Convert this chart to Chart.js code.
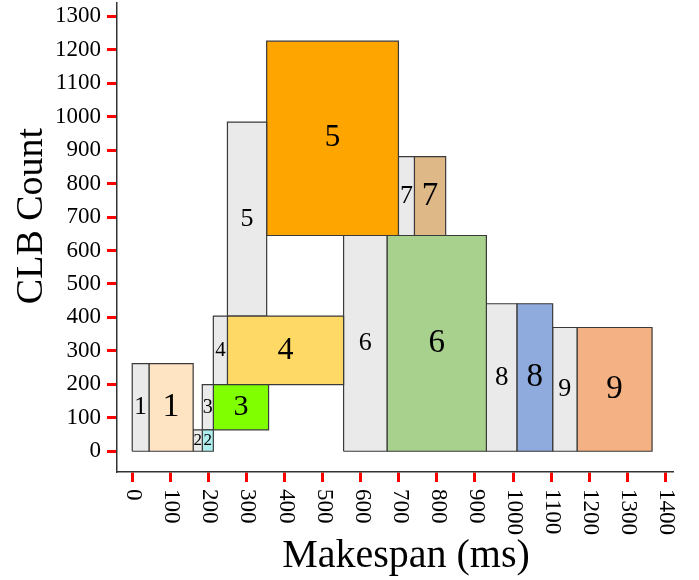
<!DOCTYPE html>
<html>
<head>
<meta charset="utf-8">
<script src="https://cdn.jsdelivr.net/npm/chart.js@4.4.1/dist/chart.umd.min.js"></script>
<style>
  html, body { margin: 0; padding: 0; background: #fff; }
  #wrap { width: 699px; height: 580px; position: relative; }
</style>
</head>
<body>
<div id="wrap"><canvas id="chart"></canvas></div>
<script>
// task groups, each one is a gray block sitting next to a coloured block
const taskLabels = ['1', '2', '3', '4', '5', '6', '7', '8', '9'];

// gray blocks: makespan (ms) range and CLB count range
const grayStart = [0, 160, 184, 213, 250, 555, 699, 930, 1104];
const grayEnd   = [44, 184, 213, 250, 353, 669, 741, 1010, 1168];
const grayLow   = [0, 0, 64, 199, 404, 0, 645, 0, 0];
const grayHigh  = [262, 64, 199, 404, 984, 645, 881, 441, 370];

// coloured blocks
const colorStart = [44, 184, 213, 250, 353, 669, 741, 1010, 1168];
const colorEnd   = [160, 213, 358, 555, 699, 930, 823, 1104, 1365];
const colorLow   = [0, 0, 64, 199, 645, 0, 645, 0, 0];
const colorHigh  = [262, 64, 199, 404, 1226, 645, 881, 441, 370];

// tick labels
const xTickValues = [0, 100, 200, 300, 400, 500, 600, 700, 800, 900, 1000, 1100, 1200, 1300, 1400];
const yTickValues = [0, 100, 200, 300, 400, 500, 600, 700, 800, 900, 1000, 1100, 1200, 1300];

// styles
const grayFill = '#EAEAEA';
const blockFill = ['#FFE4C4', '#AFEEEE', '#7FFF00', '#FFD966', '#FFA500', '#A9D18E', '#DEB887', '#8FAADC', '#F4B183'];
const grayFontPx = [25, 17, 20, 21, 26, 26, 26, 27, 26];
const colorFontPx = [34, 17, 30, 32, 31, 33, 33, 33, 33];
const serif = 'Liberation Serif';

function rectPoints(x0, x1, y0, y1) {
    return [
        { x: x0, y: y0 }, { x: x1, y: y0 }, { x: x1, y: y1 }, { x: x0, y: y1 }, { x: x0, y: y0 }
    ];
}

const datasets = [];
taskLabels.forEach((t, i) => {
    datasets.push({
        label: 'gray ' + t,
        data: rectPoints(grayStart[i], grayEnd[i], grayLow[i], grayHigh[i]),
        backgroundColor: grayFill
    });
    datasets.push({
        label: 'task ' + t,
        data: rectPoints(colorStart[i], colorEnd[i], colorLow[i], colorHigh[i]),
        backgroundColor: blockFill[i]
    });
});
datasets.forEach(d => {
    d.showLine = true;
    d.fill = 'shape';
    d.tension = 0;
    d.pointRadius = 0;
    d.borderColor = '#3a3a3a';
    d.borderWidth = 1.2;
});

// numbers in the middle of each block
const blockLabels = {
    id: 'blockLabels',
    afterDatasetsDraw(chart) {
        const { ctx, scales: { x, y } } = chart;
        const put = (txt, x0, x1, y0, y1, size) => {
            ctx.font = size + 'px "' + serif + '"';
            ctx.fillText(txt, x.getPixelForValue((x0 + x1) / 2), y.getPixelForValue((y0 + y1) / 2));
        };
        ctx.save();
        ctx.fillStyle = '#000';
        ctx.textAlign = 'center';
        ctx.textBaseline = 'middle';
        taskLabels.forEach((t, i) => {
            put(t, grayStart[i], grayEnd[i], grayLow[i], grayHigh[i], grayFontPx[i]);
            put(t, colorStart[i], colorEnd[i], colorLow[i], colorHigh[i], colorFontPx[i]);
        });
        ctx.restore();
    }
};

// rotated x tick labels (reading downwards) and axis titles
const axisText = {
    id: 'axisText',
    afterDraw(chart) {
        const { ctx, scales: { x } } = chart;
        ctx.save();
        ctx.fillStyle = '#000';
        ctx.font = '23px "' + serif + '"';
        ctx.textAlign = 'left';
        ctx.textBaseline = 'middle';
        xTickValues.forEach(v => {
            ctx.save();
            ctx.translate(x.getPixelForValue(v) + 1, 489);
            ctx.rotate(Math.PI / 2);
            ctx.fillText(String(v), 0, 0);
            ctx.restore();
        });
        ctx.font = '40px "' + serif + '"';
        ctx.textAlign = 'center';
        ctx.textBaseline = 'alphabetic';
        ctx.fillText('Makespan (ms)', 406, 567);
        ctx.font = '38px "' + serif + '"';
        ctx.save();
        ctx.translate(42, 216);
        ctx.rotate(-Math.PI / 2);
        ctx.fillText('CLB Count', 0, 0);
        ctx.restore();
        ctx.restore();
    }
};

Chart.defaults.font.family = serif;

new Chart(document.getElementById('chart'), {
    type: 'scatter',
    data: { datasets: datasets },
    plugins: [blockLabels, axisText],
    options: {
        responsive: true,
        maintainAspectRatio: false,
        animation: false,
        layout: { autoPadding: false, padding: { top: 3, right: 26, bottom: 0, left: 0 } },
        plugins: {
            legend: { display: false },
            tooltip: { enabled: false }
        },
        scales: {
            x: {
                type: 'linear',
                min: -40,
                max: 1420,
                afterBuildTicks: (scale) => { scale.ticks = xTickValues.map(v => ({ value: v })); },
                afterFit: (scale) => {
                    scale.height = 108;
                    scale.paddingLeft = 0;
                    scale.paddingRight = 0;
                },
                ticks: { display: false, autoSkip: false },
                grid: {
                    display: true,
                    drawOnChartArea: false,
                    drawTicks: true,
                    tickLength: 10,
                    tickColor: '#ff0000',
                    tickWidth: 3
                },
                border: { display: true, color: '#333', width: 1.5 }
            },
            y: {
                type: 'linear',
                min: -62,
                max: 1340,
                afterBuildTicks: (scale) => { scale.ticks = yTickValues.map(v => ({ value: v })); },
                afterFit: (scale) => {
                    scale.width = 117;
                    scale.paddingTop = 0;
                    scale.paddingBottom = 0;
                },
                ticks: {
                    autoSkip: false,
                    color: '#000',
                    padding: 6,
                    font: { size: 23, family: serif },
                    callback: (v) => String(v)
                },
                grid: {
                    display: true,
                    drawOnChartArea: false,
                    drawTicks: true,
                    tickLength: 10,
                    tickColor: '#ff0000',
                    tickWidth: 3
                },
                border: { display: true, color: '#333', width: 1.5 }
            }
        }
    }
});
</script>
</body>
</html>
